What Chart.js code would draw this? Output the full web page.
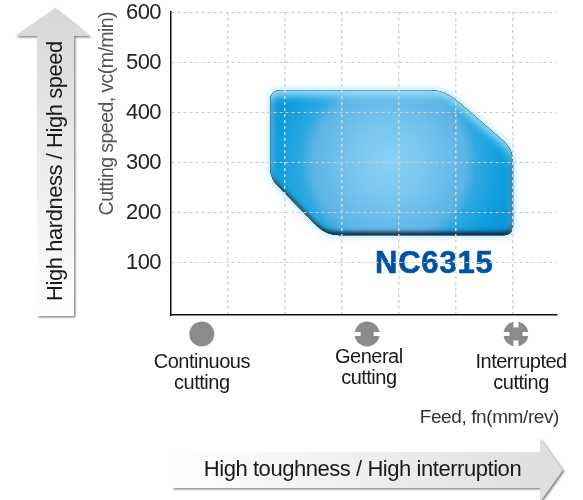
<!DOCTYPE html>
<html>
<head>
<meta charset="utf-8">
<title>NC6315</title>
<script src="https://cdn.jsdelivr.net/npm/chart.js@4"></script>
<style>
  html, body { margin: 0; padding: 0; background: #fff; }
  canvas { display: block; }
</style>
</head>
<body>
<canvas id="myChart" width="583" height="500"></canvas>
<script>
const speedTicks = [100, 200, 300, 400, 500, 600];
const feedTicks = [1, 2, 3, 4, 5, 6];

// outline of the application area, clockwise from the top left corner
const gradeName = 'NC6315';
const areaFeed = [1.74, 4.8, 6.0, 6.0, 2.72, 1.74];
const areaSpeed = [444, 444, 326, 154, 154, 268];

const cuttingTypes = [['Continuous', 'cutting'], ['General', 'cutting'], ['Interrupted', 'cutting']];
const cuttingIconFeed = [0.54, 3.44, 6.05];
const cuttingTextFeed = [0.54, 3.47, 6.14];

const FONT = '"Liberation Sans", Arial, sans-serif';
const cornerRadius = [9, 38, 28, 9, 34, 26];

function areaPath(ctx, pts) {
    const last = pts[pts.length - 1];
    const first = pts[0];
    ctx.moveTo((last.x + first.x) / 2, (last.y + first.y) / 2);
    pts.forEach((p, i) => {
        const next = pts[(i + 1) % pts.length];
        ctx.arcTo(p.x, p.y, next.x, next.y, cornerRadius[i]);
    });
    ctx.closePath();
}

// the blue area with its glow and bevelled edges, under the grid
const areaPlugin = {
    id: 'areaPlugin',
    afterDatasetsDraw(chart) {
        const ctx = chart.ctx;
        const pts = chart.getDatasetMeta(0).data;
        const cx = chart.scales.x.getPixelForValue(3.83);
        const cy = chart.scales.y.getPixelForValue(300);

        const grad = ctx.createRadialGradient(cx, cy, 0, cx, cy, 140);
        grad.addColorStop(0, '#8ad2f4');
        grad.addColorStop(0.3, '#76c4ee');
        grad.addColorStop(0.55, '#5cb4e6');
        grad.addColorStop(0.63, '#2ea8e2');
        grad.addColorStop(0.8, '#0f9ede');
        grad.addColorStop(1, '#0d8ed8');

        ctx.save();
        ctx.shadowColor = 'rgba(130,222,248,0.9)';
        ctx.shadowBlur = 9;
        ctx.fillStyle = grad;
        ctx.beginPath();
        areaPath(ctx, pts);
        ctx.fill();
        ctx.restore();

        ctx.save();
        ctx.beginPath();
        areaPath(ctx, pts);
        ctx.clip();
        const inset = (color, dx, dy, blur) => {
            ctx.save();
            ctx.shadowColor = color;
            ctx.shadowBlur = blur;
            ctx.shadowOffsetX = dx;
            ctx.shadowOffsetY = dy;
            ctx.fillStyle = '#000';
            ctx.beginPath();
            ctx.rect(0, 0, 583, 500);
            areaPath(ctx, pts);
            ctx.fill('evenodd');
            ctx.restore();
        };
        inset('rgba(0,15,30,1)', -1, -3, 4);
        inset('rgba(170,230,250,0.95)', 0, 5, 8);
        ctx.restore();

        ctx.save();
        ctx.font = 'bold 31px ' + FONT;
        ctx.letterSpacing = '0.8px';
        ctx.fillStyle = '#0052a2';
        ctx.strokeStyle = '#0052a2';
        ctx.lineWidth = 0.6;
        ctx.textBaseline = 'middle';
        ctx.strokeText(gradeName, 375, 264);
        ctx.fillText(gradeName, 375, 264);
        ctx.restore();
    }
};

function drawCuttingIcon(ctx, x, y, kind) {
    ctx.save();
    ctx.translate(x, y);
    ctx.fillStyle = '#8b8b8b';
    ctx.beginPath();
    ctx.arc(0, 0, 12.5, 0, Math.PI * 2);
    ctx.fill();
    ctx.fillStyle = '#fff';
    if (kind >= 1) {
        // notches at the left and right of the workpiece
        ctx.fillRect(-14, -2, 7.5, 4);
        ctx.fillRect(6.5, -2, 7.5, 4);
    }
    if (kind === 2) {
        ctx.fillRect(-2.5, -14, 5, 7.5);
        ctx.fillRect(-2.5, 6.5, 5, 7.5);
    }
    ctx.restore();
}

// big direction arrows, cutting types and the feed caption
const labelsPlugin = {
    id: 'labelsPlugin',
    beforeDraw(chart) {
        const ctx = chart.ctx;

        ctx.save();
        ctx.shadowColor = 'rgba(90,90,90,0.7)';
        ctx.shadowBlur = 2;
        ctx.shadowOffsetX = 1.5;
        ctx.shadowOffsetY = 1.5;
        let g = ctx.createLinearGradient(0, 8, 0, 316);
        g.addColorStop(0, '#d6d8d8');
        g.addColorStop(1, '#ffffff');
        ctx.fillStyle = g;
        ctx.beginPath();
        ctx.moveTo(55, 8);
        ctx.lineTo(90, 36);
        ctx.lineTo(74, 36);
        ctx.lineTo(74, 316);
        ctx.lineTo(37, 316);
        ctx.lineTo(37, 36);
        ctx.lineTo(15, 36);
        ctx.closePath();
        ctx.fill();

        g = ctx.createLinearGradient(172, 0, 563, 0);
        g.addColorStop(0, '#ffffff');
        g.addColorStop(1, '#dcdede');
        ctx.fillStyle = g;
        ctx.beginPath();
        ctx.moveTo(172, 452);
        ctx.lineTo(540, 452);
        ctx.lineTo(540, 438);
        ctx.lineTo(563, 470);
        ctx.lineTo(540, 502);
        ctx.lineTo(540, 488);
        ctx.lineTo(172, 488);
        ctx.closePath();
        ctx.fill();
        ctx.restore();

        ctx.save();
        ctx.fillStyle = '#1a1a1a';
        ctx.textAlign = 'center';
        ctx.textBaseline = 'middle';
        ctx.font = '22px ' + FONT;
        ctx.letterSpacing = '-0.45px';
        ctx.fillText('High toughness / High interruption', 362.5, 470);
        ctx.translate(56, 171);
        ctx.rotate(-Math.PI / 2);
        ctx.fillText('High hardness / High speed', 0, 0);
        ctx.restore();

        // tick labels and the axis title are set a little tighter than the default
        ctx.letterSpacing = '-0.6px';
    },
    afterDraw(chart) {
        const ctx = chart.ctx;
        const x = chart.scales.x;
        const rowY = [362, 357, 362];

        ctx.save();
        ctx.textAlign = 'center';
        ctx.textBaseline = 'middle';
        ctx.font = '20px ' + FONT;
        ctx.letterSpacing = '-0.5px';
        cuttingTypes.forEach((lines, i) => {
            drawCuttingIcon(ctx, x.getPixelForValue(cuttingIconFeed[i]), 334, i);
            ctx.fillStyle = '#1a1a1a';
            lines.forEach((line, j) => ctx.fillText(line, x.getPixelForValue(cuttingTextFeed[i]), rowY[i] + j * 21));
        });
        ctx.font = '19px ' + FONT;
        ctx.letterSpacing = '-0.4px';
        ctx.fillStyle = '#333';
        ctx.textAlign = 'right';
        ctx.fillText('Feed, fn(mm/rev)', 559, 418);
        ctx.restore();
    }
};

new Chart(document.getElementById('myChart').getContext('2d'), {
    type: 'line',
    data: {
        datasets: [{
            label: gradeName,
            data: areaFeed.map((f, i) => ({ x: f, y: areaSpeed[i] })),
            showLine: false,
            pointRadius: 0
        }]
    },
    options: {
        responsive: false,
        animation: false,
        layout: { padding: { left: 96, right: 26, top: 12, bottom: 185 } },
        plugins: { legend: { display: false }, tooltip: { enabled: false } },
        scales: {
            x: {
                type: 'linear',
                min: 0,
                max: 6.77,
                afterBuildTicks: s => { s.ticks = feedTicks.map(v => ({ value: v })); },
                afterFit: s => { s.height = 0; },
                ticks: { display: false },
                grid: { color: '#d4d4d4', lineWidth: 1.5, z: 1, drawTicks: false },
                border: { color: '#111', width: 1.5, dash: [3, 3], z: 2 }
            },
            y: {
                min: -5,
                max: 600,
                afterBuildTicks: s => { s.ticks = speedTicks.map(v => ({ value: v })); },
                afterFit: s => { s.width = 75; s.paddingTop = 0; s.paddingBottom = 0; },
                ticks: {
                    autoSkip: false,
                    padding: 10,
                    labelOffset: 1,
                    color: '#222',
                    font: { family: FONT, size: 22 },
                    callback: v => String(v)
                },
                title: {
                    display: true,
                    text: 'Cutting speed, vc(m/min)',
                    align: 'end',
                    color: '#555',
                    font: { family: FONT, size: 19.6 },
                    padding: 0
                },
                grid: { color: '#cccccc', z: 1, drawTicks: false },
                border: { color: '#111', width: 1.5, dash: [3, 3], z: 2 }
            }
        }
    },
    plugins: [areaPlugin, labelsPlugin]
});
</script>
</body>
</html>
